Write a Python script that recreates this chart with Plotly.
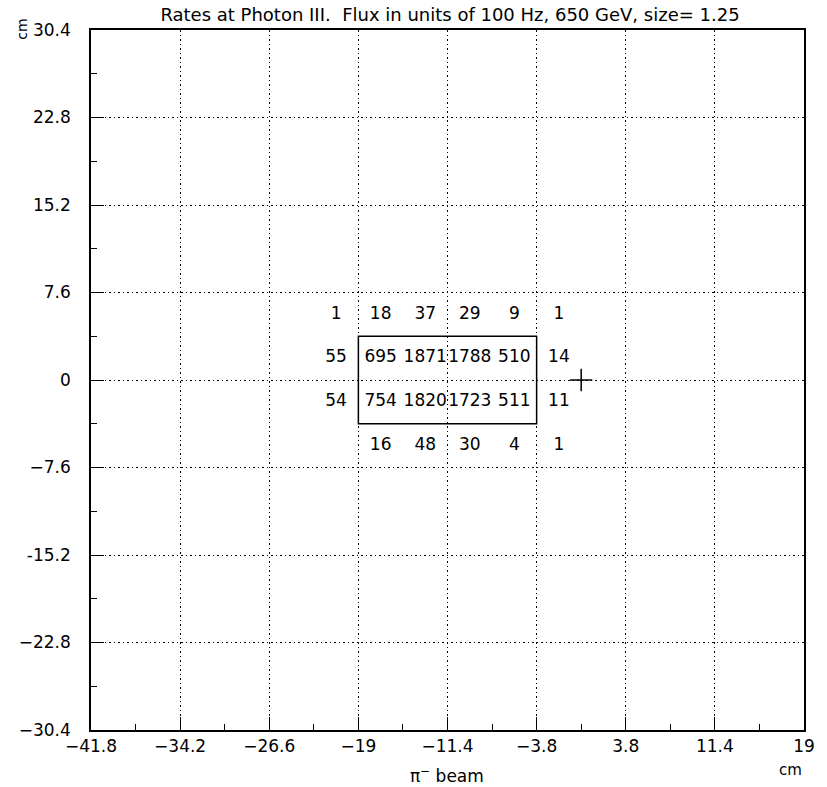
import plotly.graph_objects as go

# ---- data ----
col_centers = [-20.9, -17.1, -13.3, -9.5, -5.7, -1.9]
row_centers = [5.7, 1.9, -1.9, -5.7]
rates = [
    [1, 18, 37, 29, 9, 1],
    [55, 695, 1871, 1788, 510, 14],
    [54, 754, 1820, 1723, 511, 11],
    [None, 16, 48, 30, 4, 1],
]
box_x = [-19.0, -3.8]
box_y = [-3.8, 3.8]
beam_x = [0.0]
beam_y = [0.0]
x_ticks = [-41.8, -34.2, -26.6, -19, -11.4, -3.8, 3.8, 11.4, 19]
x_ticktext = ["\u221241.8", "\u221234.2", "\u221226.6", "\u221219", "\u221211.4", "\u22123.8", "3.8", "11.4", "19"]
y_ticks = [-30.4, -22.8, -15.2, -7.6, 0, 7.6, 15.2, 22.8, 30.4]
y_ticktext = ["\u221230.4", "\u221222.8", "-15.2", "\u22127.6", "0", "7.6", "15.2", "22.8", "30.4"]
x_minor = [-38.0, -30.4, -22.8, -15.2, -7.6, 0.0, 7.6, 15.2]
y_minor = [-26.6, -19.0, -11.4, -3.8, 3.8, 11.4, 19.0, 26.6]
x_range = [-41.8, 19]
y_range = [-30.4, 30.4]

FONT = "DejaVu Sans"

xs, ys, ts = [], [], []
for r, yc in zip(rates, row_centers):
    for v, xc in zip(r, col_centers):
        if v is None:
            continue
        xs.append(xc)
        ys.append(yc)
        ts.append(str(v))

fig = go.Figure()
fig.add_trace(go.Scatter(x=xs, y=ys, text=ts, mode="text",
                         textposition="middle center",
                         textfont=dict(family=FONT, size=17, color="black"),
                         hoverinfo="skip", showlegend=False))
fig.add_trace(go.Scatter(x=beam_x, y=beam_y, mode="markers",
                         marker=dict(symbol="cross-thin", size=16,
                                     line=dict(color="black", width=1.5)),
                         hoverinfo="skip", showlegend=False))
fig.add_shape(type="rect", x0=box_x[0], x1=box_x[1], y0=box_y[0], y1=box_y[1],
              line=dict(color="black", width=1.5), xref="x", yref="y")

L, R, T, B = 91, 15, 30, 57
W, H = 827, 787
pw, ph = W - L - R, H - T - B

def px(xp):
    return (xp - L) / pw

def py(yp):
    return (H - B - yp) / ph

axis_common = dict(
    showline=True, linecolor="black", linewidth=1.5, mirror=True,
    showgrid=True, gridcolor="black", gridwidth=1, griddash="1.5px,3px",
    zeroline=False, ticks="inside", ticklen=13, tickwidth=1, tickcolor="black",
    tickfont=dict(family=FONT, size=17, color="black"),
    tickmode="array",
)
fig.update_xaxes(range=x_range, tickvals=x_ticks, ticktext=x_ticktext,
                 minor=dict(tickmode="array", tickvals=x_minor, ticks="inside",
                            ticklen=6, tickcolor="black", showgrid=False),
                 **axis_common)
fig.update_yaxes(range=y_range, tickvals=y_ticks, ticktext=y_ticktext,
                 ticklabelstandoff=15,
                 minor=dict(tickmode="array", tickvals=y_minor, ticks="inside",
                            ticklen=6, tickcolor="black", showgrid=False),
                 **axis_common)

fig.add_annotation(text="\u03c0<sup>\u2212</sup> beam", xref="paper", yref="paper",
                   x=px(451), y=py(775), xanchor="center", yanchor="middle",
                   showarrow=False, font=dict(family=FONT, size=17, color="black"))
fig.add_annotation(text="cm", xref="paper", yref="paper",
                   x=px(798), y=py(770), xanchor="center", yanchor="middle",
                   showarrow=False, font=dict(family=FONT, size=15, color="black"))
fig.add_annotation(text="cm", xref="paper", yref="paper", textangle=-90,
                   x=px(21), y=py(29), xanchor="center", yanchor="middle",
                   showarrow=False, font=dict(family=FONT, size=14, color="black"))

fig.update_layout(
    width=W, height=H,
    margin=dict(l=L, r=R, t=T, b=B),
    paper_bgcolor="white", plot_bgcolor="white",
    title=dict(text="Rates at Photon III.  Flux in units of 100 Hz, 650 GeV, size= 1.25",
               x=450 / W, xanchor="center", y=1 - 15 / H, yanchor="middle",
               font=dict(family=FONT, size=18, color="black")),
    showlegend=False,
)

fig.write_html("out.html")
